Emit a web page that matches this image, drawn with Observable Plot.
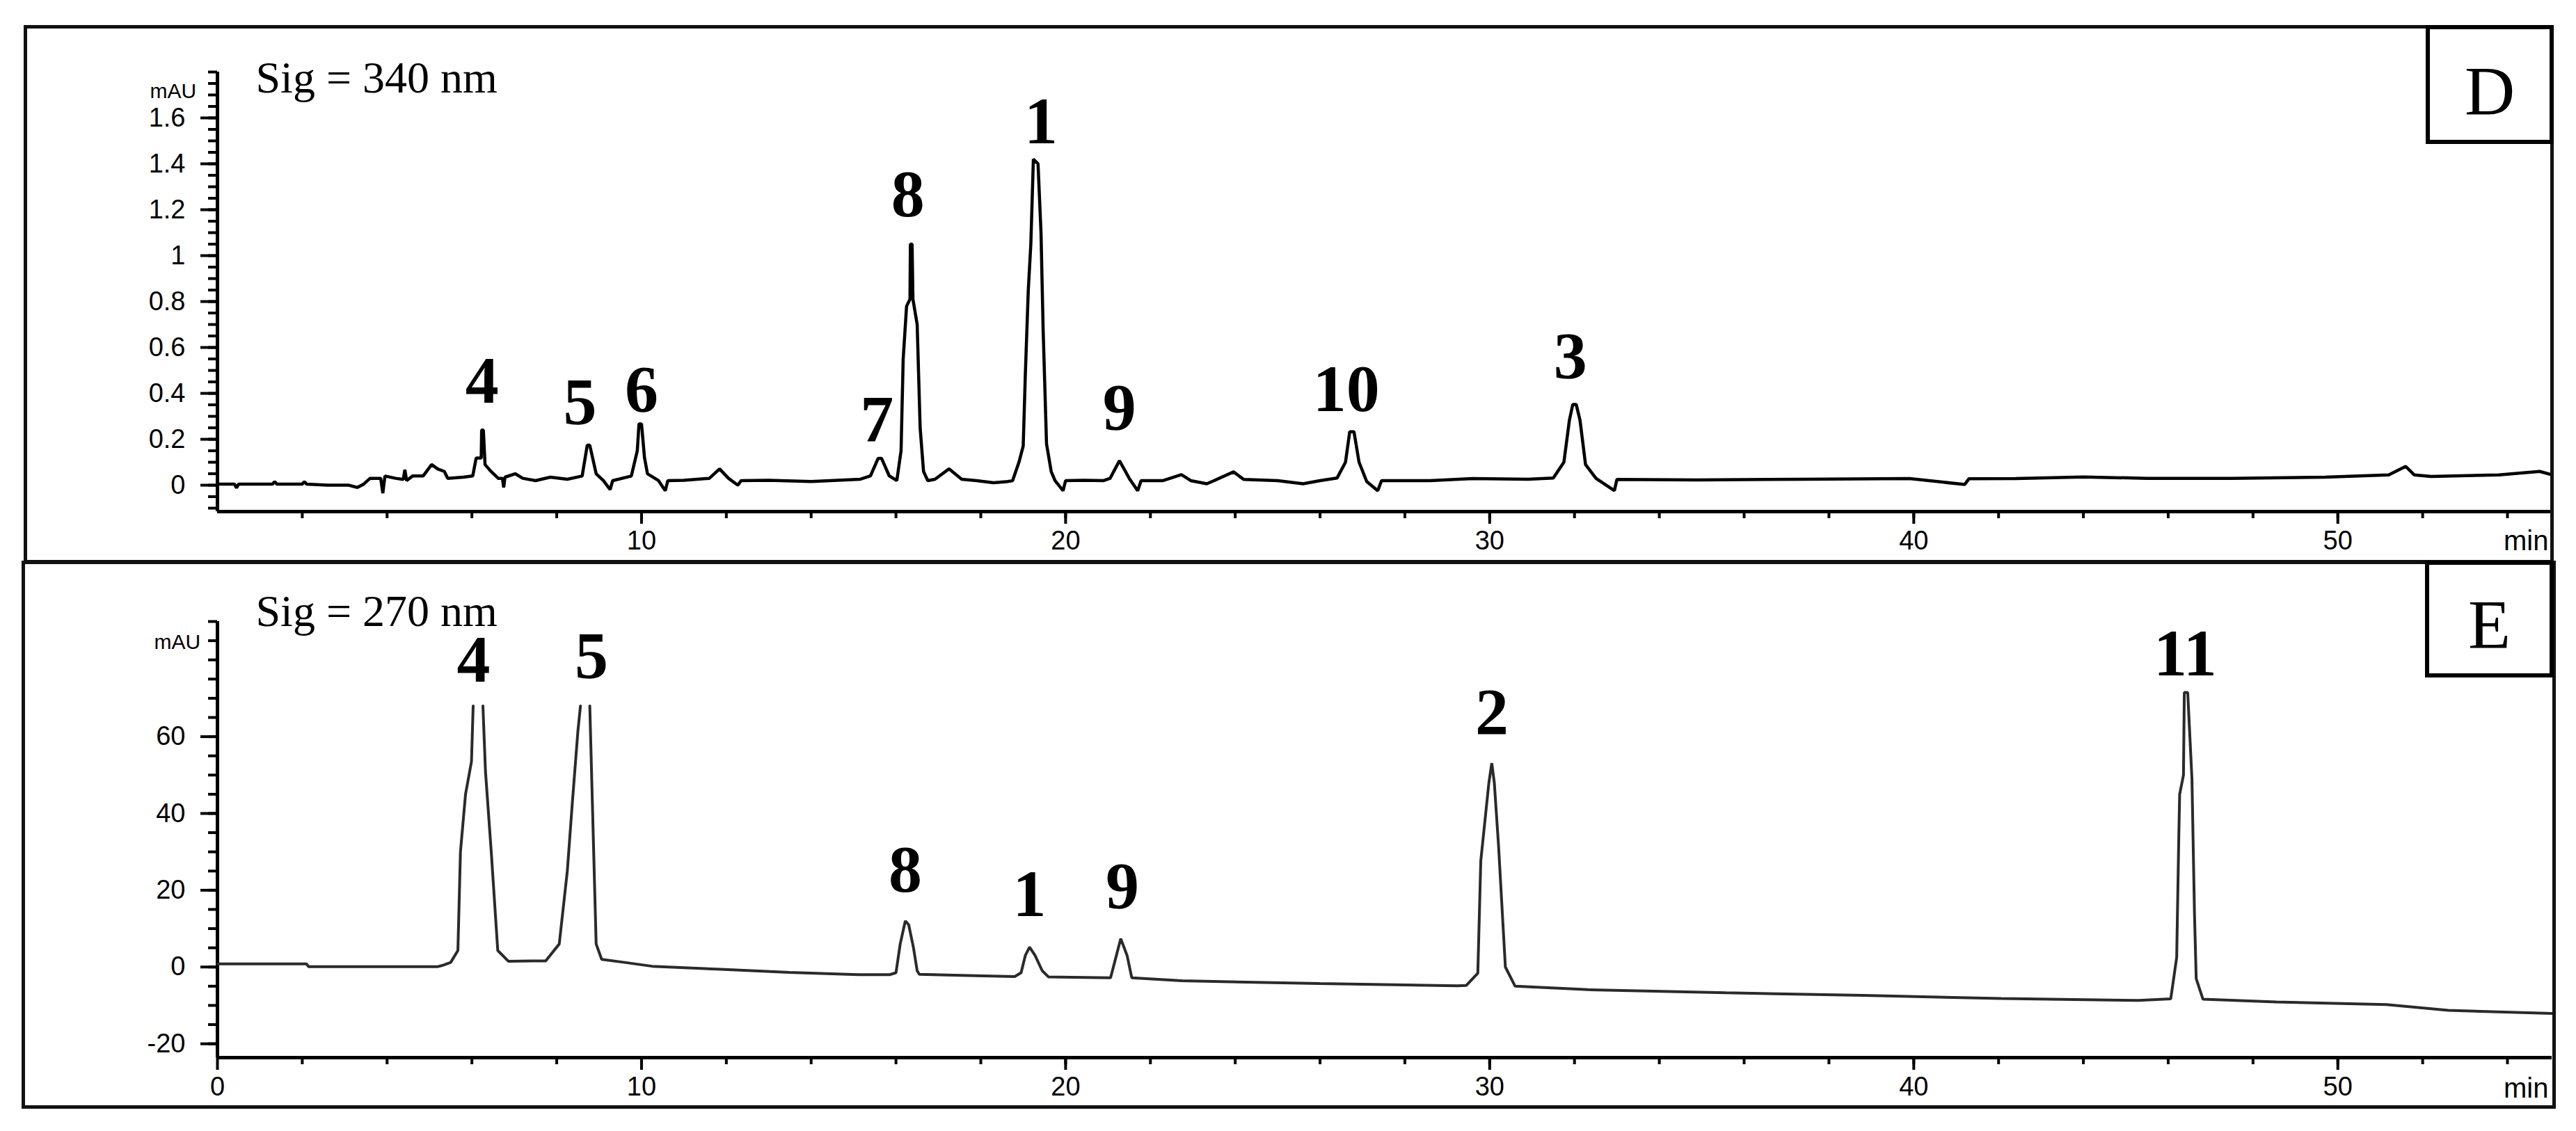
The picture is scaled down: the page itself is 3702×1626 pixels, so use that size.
<!DOCTYPE html>
<html><head><meta charset="utf-8">
<script src="https://cdn.jsdelivr.net/npm/d3@7"></script>
<script src="https://cdn.jsdelivr.net/npm/@observablehq/plot@0.6"></script>
<style>
html,body{margin:0;padding:0;background:#fff;width:3702px;height:1626px;overflow:hidden;}
.abs{position:absolute;}
.frame{position:absolute;box-sizing:border-box;border:5px solid #111;}
.box{position:absolute;box-sizing:border-box;border:6px solid #000;background:#fff;}
.letter{position:absolute;font-family:"Liberation Serif","Times New Roman",serif;font-size:100px;line-height:100px;text-align:center;color:#000;}
</style></head><body>
<div id="D" class="abs" style="left:0;top:0"></div>
<div id="E" class="abs" style="left:0;top:808px"></div>
<div class="frame" style="left:34px;top:36px;width:3636px;height:774px"></div>
<div class="frame" style="left:31px;top:806px;width:3642px;height:788px"></div>
<div class="box" style="left:3486px;top:36px;width:184px;height:171px"></div>
<div class="box" style="left:3485px;top:806px;width:185px;height:168px"></div>
<div class="letter" style="left:3486px;width:184px;top:81px">D</div>
<div class="letter" style="left:3485px;width:185px;top:848px">E</div>
<script>
// ---------- Panel D (Sig = 340 nm) ----------
const dTime = [0,0.4,0.45,0.5,1.3,1.35,1.4,2.0,2.05,2.1,2.6,3.1,3.3,3.45,3.6,3.85,3.9,3.95,4.2,4.38,4.42,4.46,4.6,4.85,5.05,5.2,5.35,5.43,5.8,6.02,6.1,6.22,6.23,6.27,6.31,6.45,6.62,6.72,6.75,6.78,7.02,7.2,7.5,7.85,8.25,8.6,8.72,8.78,8.93,9.1,9.26,9.32,9.76,9.9,9.94,10.0,10.07,10.14,10.4,10.56,10.62,11.0,11.6,11.84,12.05,12.27,12.35,13.0,14.0,15.16,15.4,15.58,15.66,15.84,16.02,16.12,16.17,16.25,16.33,16.34,16.38,16.4,16.5,16.57,16.65,16.75,16.92,17.25,17.55,17.9,18.3,18.6,18.75,18.9,19.0,19.05,19.12,19.18,19.24,19.35,19.42,19.47,19.55,19.66,19.75,19.94,20.0,20.44,20.9,21.05,21.27,21.5,21.7,21.78,22.3,22.73,22.95,23.33,23.5,23.96,24.2,25.0,25.6,26.0,26.4,26.6,26.7,26.8,26.92,27.1,27.36,27.45,28.6,29.6,30.9,31.5,31.75,31.88,31.96,32.04,32.13,32.26,32.51,32.94,33.0,34.9,37.4,39.9,41.2,41.3,42.4,44.0,45.5,47.5,49.7,51.2,51.6,51.8,52.2,53.8,54.76,55.05];
const dSignal = [0.005,0.005,-0.012,0.005,0.005,0.015,0.005,0.005,0.015,0.005,0.0,0.0,-0.01,0.005,0.03,0.03,-0.035,0.04,0.03,0.025,0.067,0.02,0.04,0.04,0.09,0.07,0.06,0.03,0.035,0.04,0.118,0.118,0.24,0.24,0.09,0.06,0.03,0.03,-0.01,0.035,0.05,0.03,0.02,0.035,0.026,0.04,0.174,0.174,0.05,0.02,-0.019,0.02,0.04,0.15,0.267,0.267,0.12,0.05,0.02,-0.024,0.02,0.021,0.03,0.071,0.03,0.0,0.02,0.021,0.016,0.026,0.041,0.117,0.117,0.041,0.02,0.15,0.55,0.78,0.81,1.05,1.05,0.81,0.7,0.25,0.06,0.02,0.026,0.071,0.026,0.02,0.011,0.015,0.02,0.1,0.17,0.48,0.85,1.05,1.42,1.4,1.1,0.68,0.18,0.06,0.02,-0.024,0.02,0.021,0.02,0.03,0.107,0.03,-0.024,0.02,0.02,0.046,0.02,0.006,0.02,0.058,0.025,0.02,0.006,0.02,0.031,0.1,0.233,0.233,0.1,0.016,-0.024,0.02,0.02,0.029,0.026,0.031,0.1,0.283,0.352,0.352,0.283,0.09,0.029,-0.024,0.025,0.023,0.026,0.029,0.003,0.028,0.029,0.036,0.03,0.03,0.035,0.045,0.082,0.045,0.038,0.045,0.06,0.045];
const dPeakLabels = ["4","5","6","7","8","1","9","10","3"];
const dPeakTimes  = [6.24, 8.55, 10.0, 15.55, 16.28, 19.42, 21.27, 26.62, 31.9];
const dPeakLabelY = [0.36, 0.266, 0.32, 0.19, 1.17, 1.49, 0.24, 0.324, 0.466];
const dYTicks = [0, 0.2, 0.4, 0.6, 0.8, 1, 1.2, 1.4, 1.6];
const dYMinorTicks = d3.range(-2, 37).map(i => i / 20);
const dXTicks = [10, 20, 30, 40, 50];
const dSigText = "Sig = 340 nm";

// ---------- Panel E (Sig = 270 nm) ----------
const eTime = [0,2.1,2.15,5.2,5.3,5.5,5.67,5.73,5.85,5.99,6.03,6.14,6.26,6.32,6.46,6.61,6.86,7.4,7.74,8.06,8.25,8.37,8.5,8.56,8.67,8.78,8.85,8.93,9.06,9.6,10.25,11.87,13.49,15.12,15.85,16.0,16.1,16.22,16.3,16.41,16.5,16.55,17.71,18.8,18.95,19.05,19.15,19.28,19.45,19.6,21.06,21.15,21.3,21.45,21.56,22.75,25.99,29.24,29.45,29.72,29.79,29.98,30.05,30.11,30.21,30.37,30.6,32.32,35.57,38.81,42.06,45.3,46.06,46.2,46.25,46.27,46.36,46.38,46.46,46.56,46.62,46.66,46.82,48.55,51.15,52.6,55.05];
const eSignal = [0.8,0.8,0.1,0.1,0.4,1.2,4.3,30,45,53.5,68,NaN,68,51,29.4,4.3,1.5,1.6,1.6,6,25,43,61.5,68,NaN,68,39,6,2,1.2,0.2,-0.6,-1.4,-2.0,-2.0,-1.5,6,12,11,5.2,-1.0,-1.9,-2.2,-2.5,-1.5,3,5.2,3,-1,-2.6,-2.8,1,7.4,3,-2.8,-3.6,-4.3,-4.9,-4.8,-1.6,27.6,47.9,53.1,47.9,31.4,0,-5.0,-5.9,-6.7,-7.4,-8.2,-8.7,-8.3,2.5,34,45,50,71.5,71.5,49,13.7,-3,-8.4,-9.1,-9.8,-11.3,-12.1];
const ePeakLabels = ["4","5","8","1","9","2","11"];
const ePeakTimes  = [6.04, 8.82, 16.22, 19.15, 21.34, 30.05, 46.4];
const ePeakLabelY = [74.3, 75.3, 19.7, 13.2, 15.2, 60.6, 76];
const eYTicks = [-20, 0, 20, 40, 60];
const eYMinorTicks = d3.range(-20, 91, 5);
const eXTicks = [0, 10, 20, 30, 40, 50];
const eSigText = "Sig = 270 nm";

const xMinorTicks = d3.range(2, 55, 2);
const xDomain = [0, 55.05];
const serif = "'Liberation Serif','Times New Roman',serif";
const sans = "'Liberation Sans',Arial,sans-serif";

function panel(o) {
  const trace = o.time.map((t, i) => ({t, v: o.signal[i]}));
  const peaks = o.labels.map((s, i) => ({s, t: o.lt[i], v: o.ly[i]}));
  return Plot.plot({
    width: 3702, height: o.height,
    marginTop: o.marginTop, marginBottom: o.marginBottom, marginLeft: 312, marginRight: 35,
    style: {background: "transparent", fontFamily: sans, fontSize: "38px", color: "#000", overflow: "visible"},
    x: {domain: xDomain, axis: null},
    y: {domain: o.yDomain, axis: null},
    marks: [
      Plot.axisY({ticks: o.yMinor, tickSize: 13, tickFormat: () => "", strokeWidth: 4, label: null}),
      Plot.axisY({ticks: o.yTicks, tickSize: 24, tickPadding: 22, tickFormat: d => String(d), strokeWidth: 4, label: null}),
      Plot.axisX({ticks: xMinorTicks, tickSize: 10, tickFormat: () => "", strokeWidth: 4, label: null}),
      Plot.axisX({ticks: o.xTicks, tickSize: 18, tickPadding: 10, tickFormat: d => String(d), strokeWidth: 4, label: null}),
      Plot.ruleX([0], {strokeWidth: 5}),
      Plot.ruleY([o.yDomain[0]], {strokeWidth: 5}),
      Plot.line(trace, {x: "t", y: "v", stroke: o.stroke, strokeWidth: o.strokeWidth, strokeLinejoin: "miter"}),
      Plot.text(peaks, {x: "t", y: "v", text: "s", lineAnchor: "bottom", fontFamily: serif, fontWeight: "bold", fontSize: 96}),
      Plot.text([o.sig], {text: d => d, frameAnchor: "top-left", dx: 55, dy: o.sigDy, textAnchor: "start", lineAnchor: "bottom", fontFamily: serif, fontSize: 64}),
      Plot.text(["mAU"], {text: d => d, frameAnchor: "top-left", dx: o.mauDx, dy: o.mauDy, fontFamily: sans, fontSize: 30}),
      Plot.text(["min"], {text: d => d, frameAnchor: "bottom-right", dx: -5, dy: o.minDy, textAnchor: "end", lineAnchor: "bottom", fontFamily: sans, fontSize: 40})
    ]
  });
}

document.getElementById("D").append(panel({
  time: dTime, signal: dSignal, labels: dPeakLabels, lt: dPeakTimes, ly: dPeakLabelY,
  yDomain: [-0.115, 1.8], yTicks: dYTicks, yMinor: dYMinorTicks, xTicks: dXTicks,
  sig: dSigText, height: 808, marginTop: 103, marginBottom: 73,
  stroke: "#000", strokeWidth: 4.5, sigDy: 29, mauDx: -97, mauDy: 16, minDy: 55
}));
document.getElementById("E").append(panel({
  time: eTime, signal: eSignal, labels: ePeakLabels, lt: ePeakTimes, ly: ePeakLabelY,
  yDomain: [-23.6, 90], yTicks: eYTicks, yMinor: eYMinorTicks, xTicks: eXTicks,
  sig: eSigText, height: 818, marginTop: 85, marginBottom: 106,
  stroke: "#2a2a2a", strokeWidth: 4, sigDy: 6, mauDx: -91, mauDy: 18, minDy: 57
}));
</script>
</body></html>
